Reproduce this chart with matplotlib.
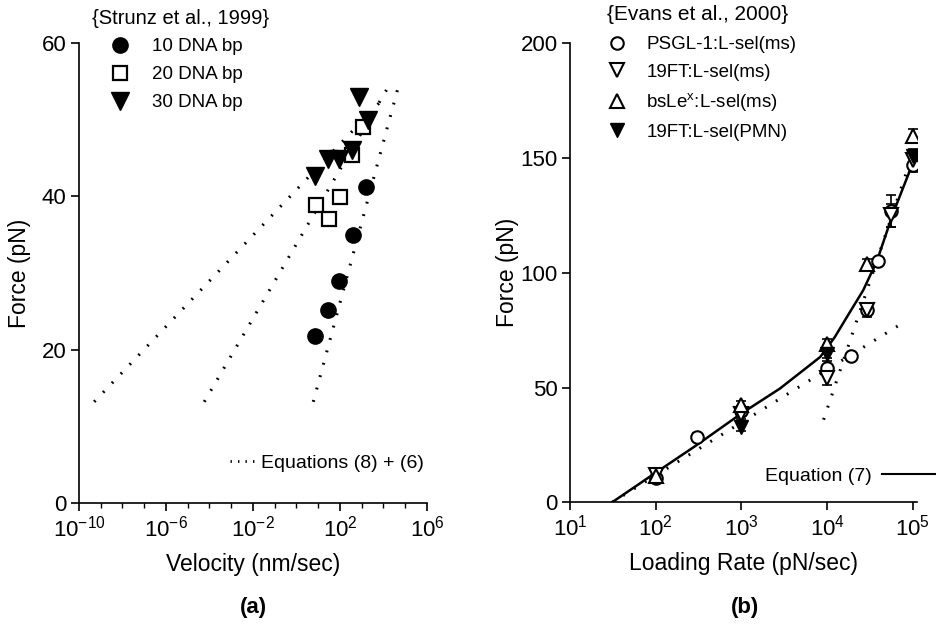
import matplotlib
matplotlib.use("Agg")
import matplotlib.pyplot as plt
from matplotlib.lines import Line2D
from matplotlib.ticker import FixedLocator, NullLocator, FixedFormatter, NullFormatter

plt.rcParams['font.family'] = ['Liberation Sans', 'DejaVu Sans']
plt.rcParams['mathtext.fontset'] = 'custom'
plt.rcParams['mathtext.rm'] = 'Liberation Sans'
plt.rcParams['mathtext.it'] = 'Liberation Sans'

# ---- panel (a): Strunz et al., 1999 ----
v10 = [7, 27, 93, 410, 1600]
f10 = [21.8, 25.2, 28.9, 34.9, 41.2]
v20 = [7.6, 31, 100, 340, 1100]
f20 = [38.9, 37.1, 39.9, 45.4, 49.1]
v30 = [7, 29, 93, 340, 740, 2000]
f30 = [42.6, 44.9, 44.9, 46.1, 53.0, 50.0]

# dotted model lines, Equations (8) + (6)
eq_v1 = [5.0e-10, 1.2e4]
eq_f1 = [13.2, 53.0]
eq_v2 = [5.75e-5, 1.6e4]
eq_f2 = [13.2, 54.2]
eq_v3 = [5.9, 4.7e4]
eq_f3 = [13.2, 54.2]

vel_ticks = [1e-10, 1e-6, 1e-2, 1e2, 1e6]
vel_labels = [r'$10^{-10}$', r'$10^{-6}$', r'$10^{-2}$', r'$10^{2}$', r'$10^{6}$']

# ---- panel (b): Evans et al., 2000 ----
psgl_rate = [100, 300, 1000, 1e4, 1.9e4, 2.9e4, 3.9e4, 5.6e4, 1e5]
psgl_force = [10.4, 28.5, 40, 58.4, 63.6, 83.6, 105, 127, 147]
psgl_err = [2, 1.5, 2, 3, 1.5, 3, 1.5, 7, 3]

ft_ms_rate = [100, 1000, 1e4, 2.9e4, 5.6e4, 1e5]
ft_ms_force = [12, 38.5, 54, 84, 125, 149]
ft_ms_err = [2, 2, 3, 2, 5, 3]

bsle_rate = [100, 1000, 1e4, 2.9e4, 1e5]
bsle_force = [11.5, 42.3, 69, 104, 159.7]
bsle_err = [2, 2, 2, 2, 3]

pmn_rate = [1000, 1e4, 1e5]
pmn_force = [33, 64.8, 151]
pmn_err = [2, 2, 3]

# Equation (7) solid curve
eq7_rate = [31, 100, 300, 1000, 2800, 8300, 12300, 17000, 26300, 38000, 59000, 89000, 100000]
eq7_force = [0, 12.9, 24.9, 38.7, 49.5, 63.3, 72, 80.7, 92.3, 105, 126, 143, 148]
# dotted asymptotes
dot1_rate = [31, 68000]
dot1_force = [0, 77]
dot2_rate = [9100, 100000]
dot2_force = [36, 152]

rate_ticks = [1e1, 1e2, 1e3, 1e4, 1e5]
rate_labels = [r'$10^{1}$', r'$10^{2}$', r'$10^{3}$', r'$10^{4}$', r'$10^{5}$']

W, H = 937, 633
fig = plt.figure(figsize=(W / 100, H / 100), dpi=100)

ax1 = fig.add_axes([79 / W, 1 - 503 / H, (427 - 79) / W, (503 - 43) / H])
ax2 = fig.add_axes([570 / W, 1 - 502.3 / H, (917 - 570) / W, (502.3 - 43.3) / H])

dots = (0, (0.6, 3.6))

for ax in (ax1, ax2):
    ax.spines['top'].set_visible(False)
    ax.spines['right'].set_visible(False)
    ax.spines['left'].set_linewidth(1.2)
    ax.spines['bottom'].set_linewidth(1.2)
    ax.set_xscale('log')
    ax.tick_params(direction='out', length=6, width=1.2, labelsize=16, pad=3)
    ax.tick_params(which='minor', direction='out', length=3.5, width=1.0)

# panel (a)
ax1.plot(eq_v1, eq_f1, color='black', lw=2.2, linestyle=dots)
ax1.plot(eq_v2, eq_f2, color='black', lw=2.2, linestyle=dots)
ax1.plot(eq_v3, eq_f3, color='black', lw=2.2, linestyle=dots)
h10, = ax1.plot(v10, f10, 'o', color='black', ms=11, label='10 DNA bp')
h20, = ax1.plot(v20, f20, 's', mfc='white', mec='black', mew=1.6, ms=9.5, label='20 DNA bp')
h30, = ax1.plot(v30, f30, 'v', color='black', ms=13, label='30 DNA bp')

ax1.set_xlim(1e-10, 1e6)
ax1.set_ylim(0, 60)
ax1.set_yticks([0, 20, 40, 60])
ax1.xaxis.set_major_locator(FixedLocator(vel_ticks))
ax1.xaxis.set_major_formatter(FixedFormatter(vel_labels))
ax1.xaxis.set_minor_locator(FixedLocator([10.0 ** k for k in range(-10, 7)]))
ax1.xaxis.set_minor_formatter(NullFormatter())
ax1.set_xlabel('Velocity (nm/sec)', fontsize=16.5, labelpad=8)
ax1.set_ylabel('Force (pN)', fontsize=16.5, labelpad=8)

leg1 = ax1.legend(handles=[h10, h20, h30], loc='upper left',
                  bbox_to_anchor=(106 / W, 1 - 38 / H), bbox_transform=fig.transFigure,
                  frameon=False, fontsize=13.5, handlelength=1.5, handletextpad=0.95,
                  labelspacing=0.58, borderpad=0, borderaxespad=0)
ax1.add_artist(leg1)
eqline = Line2D([], [], color='black', lw=2.0, linestyle=(0, (0.5, 2.2)))
ax1.legend(handles=[eqline], labels=['Equations (8) + (6)'], loc='center left',
           bbox_to_anchor=(230 / W, 1 - 463 / H), bbox_transform=fig.transFigure,
           frameon=False, fontsize=14, handlelength=1.4, handletextpad=0.2,
           borderpad=0, borderaxespad=0)
fig.text(92 / W, 1 - 18 / H, '{Strunz et al., 1999}', fontsize=14.5, va='center', ha='left')

# panel (b)
ax2.plot(dot1_rate, dot1_force, color='black', lw=2.2, linestyle=dots)
ax2.plot(dot2_rate, dot2_force, color='black', lw=2.2, linestyle=dots)
ax2.plot(eq7_rate, eq7_force, color='black', lw=1.8)

ek = dict(fmt='none', ecolor='black', elinewidth=1.2, capsize=3.6, capthick=1.2)
ax2.errorbar(psgl_rate, psgl_force, yerr=psgl_err, **ek)
ax2.errorbar(ft_ms_rate, ft_ms_force, yerr=ft_ms_err, **ek)
ax2.errorbar(bsle_rate, bsle_force, yerr=bsle_err, **ek)
ax2.errorbar(pmn_rate, pmn_force, yerr=pmn_err, **ek)
hp, = ax2.plot(psgl_rate, psgl_force, 'o', mfc='white', mec='black', mew=1.5, ms=9,
               label='PSGL-1:L-sel(ms)')
hf, = ax2.plot(ft_ms_rate, ft_ms_force, 'v', mfc='white', mec='black', mew=1.5, ms=9.5,
               label='19FT:L-sel(ms)')
hb, = ax2.plot(bsle_rate, bsle_force, '^', mfc='white', mec='black', mew=1.5, ms=9.5,
               label=r'bsLe$^{\mathrm{x}}$:L-sel(ms)')
hm, = ax2.plot(pmn_rate, pmn_force, 'v', color='black', ms=10, label='19FT:L-sel(PMN)')

ax2.set_xlim(10, 10 ** 5.049)
ax2.set_ylim(0, 200)
ax2.set_yticks([0, 50, 100, 150, 200])
ax2.xaxis.set_major_locator(FixedLocator(rate_ticks))
ax2.xaxis.set_major_formatter(FixedFormatter(rate_labels))
ax2.xaxis.set_minor_locator(NullLocator())
ax2.set_xlabel('Loading Rate (pN/sec)', fontsize=16.5, labelpad=8)
ax2.set_ylabel('Force (pN)', fontsize=16.5, labelpad=1)

leg2 = ax2.legend(handles=[hp, hf, hb, hm], loc='upper left',
                  bbox_to_anchor=(604 / W, 1 - 36 / H), bbox_transform=fig.transFigure,
                  frameon=False, fontsize=13.5, handlelength=1.4, handletextpad=0.85,
                  labelspacing=0.56, borderpad=0, borderaxespad=0)
ax2.add_artist(leg2)
eq7line = Line2D([], [], color='black', lw=1.5)
ax2.legend(handles=[eq7line], labels=['Equation (7)'], loc='center right',
           bbox_to_anchor=(937 / W, 1 - 476 / H), bbox_transform=fig.transFigure,
           frameon=False, fontsize=14, handlelength=2.85, handletextpad=0.5,
           markerfirst=False, borderpad=0, borderaxespad=0)
fig.text(607 / W, 1 - 15 / H, '{Evans et al., 2000}', fontsize=15, va='center', ha='left')

fig.text(253 / W, 1 - 608 / H, '(a)', fontsize=16, fontweight='bold', ha='center', va='center')
fig.text(745 / W, 1 - 608 / H, '(b)', fontsize=16, fontweight='bold', ha='center', va='center')

fig.savefig('out.png', dpi=100)
